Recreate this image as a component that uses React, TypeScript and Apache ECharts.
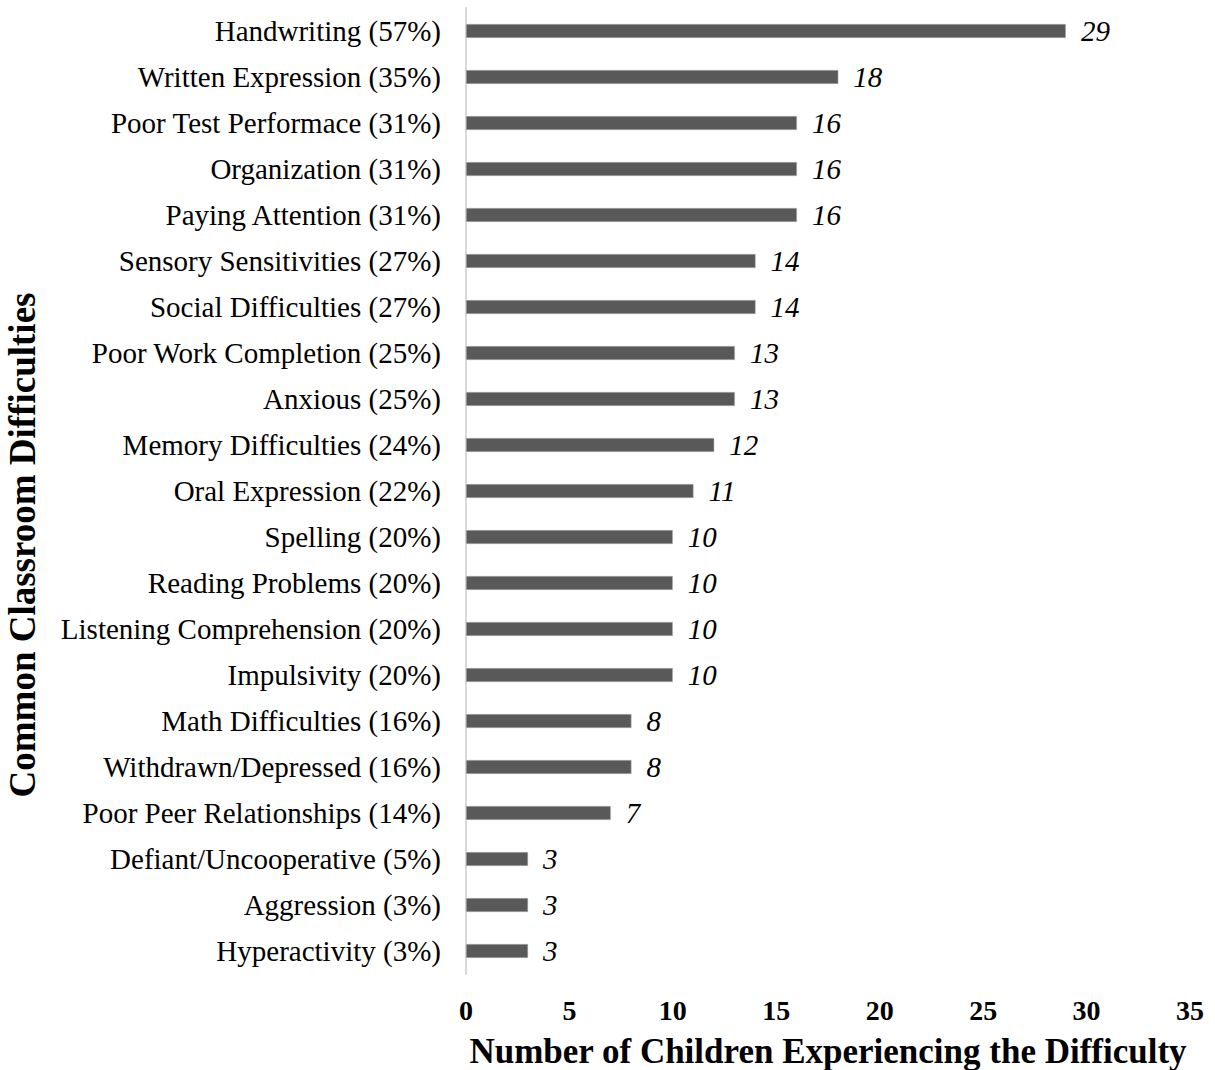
import React, { useEffect, useRef } from "react";
import * as echarts from "echarts";

// Classroom difficulties, listed top to bottom
const categories: string[] = [
  "Handwriting (57%)",
  "Written Expression (35%)",
  "Poor Test Performace (31%)",
  "Organization (31%)",
  "Paying Attention (31%)",
  "Sensory Sensitivities (27%)",
  "Social Difficulties (27%)",
  "Poor Work Completion (25%)",
  "Anxious (25%)",
  "Memory Difficulties (24%)",
  "Oral Expression (22%)",
  "Spelling (20%)",
  "Reading Problems (20%)",
  "Listening Comprehension (20%)",
  "Impulsivity (20%)",
  "Math Difficulties (16%)",
  "Withdrawn/Depressed (16%)",
  "Poor Peer Relationships (14%)",
  "Defiant/Uncooperative (5%)",
  "Aggression (3%)",
  "Hyperactivity (3%)",
];

// Number of children per difficulty, same order
const counts: number[] = [29, 18, 16, 16, 16, 14, 14, 13, 13, 12, 11, 10, 10, 10, 10, 8, 8, 7, 3, 3, 3];

const xTicks = { min: 0, max: 35, interval: 5 };

const FONT = '"Liberation Serif", "Times New Roman", serif';

export default function App() {
  const ref = useRef<HTMLDivElement>(null);

  useEffect(() => {
    document.body.style.margin = "0";
    if (!ref.current) return;
    const chart = echarts.init(ref.current, undefined, { renderer: "svg" });
    chart.setOption({
      animation: false,
      backgroundColor: "#ffffff",
      grid: {
        left: 466,
        right: 25,
        top: 8,
        bottom: 96,
        containLabel: false,
        outerBoundsMode: "none",
      },
      xAxis: {
        type: "value",
        min: xTicks.min,
        max: xTicks.max,
        interval: xTicks.interval,
        axisLine: { show: false },
        axisTick: { show: false },
        splitLine: { show: false },
        axisLabel: {
          fontFamily: FONT,
          fontWeight: "bold",
          fontSize: 28,
          color: "#000",
          margin: 22,
        },
        name: "Number of Children Experiencing the Difficulty",
        nameLocation: "middle",
        nameGap: 60,
        nameTextStyle: {
          fontFamily: FONT,
          fontWeight: "bold",
          fontSize: 35,
          lineHeight: 34,
          color: "#000",
        },
      },
      yAxis: {
        type: "category",
        data: categories,
        inverse: true,
        axisLine: { show: true, lineStyle: { color: "#d9d9d9", width: 2 } },
        axisTick: { show: false },
        axisLabel: {
          fontFamily: FONT,
          fontSize: 29,
          color: "#000",
          margin: 25,
        },
      },
      graphic: [
        {
          type: "text",
          x: 22,
          y: 545,
          rotation: Math.PI / 2,
          style: {
            text: "Common Classroom Difficulties",
            fontFamily: FONT,
            fontWeight: "bold",
            fontSize: 37,
            fill: "#000",
            align: "center",
            verticalAlign: "middle",
          },
        },
      ],
      series: [
        {
          type: "bar",
          data: counts,
          barWidth: 14,
          itemStyle: { color: "#595959", borderColor: "#bfbfbf", borderWidth: 0.5 },
          label: {
            show: true,
            position: "right",
            distance: 15,
            fontFamily: FONT,
            fontStyle: "italic",
            fontSize: 29,
            color: "#000",
          },
        },
      ],
    });
    return () => chart.dispose();
  }, []);

  return <div ref={ref} style={{ width: 1215, height: 1070 }} />;
}
